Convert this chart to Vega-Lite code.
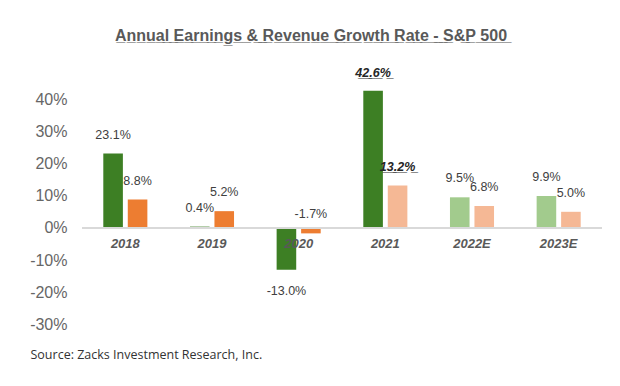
{
  "$schema": "https://vega.github.io/schema/vega-lite/v6.json",
  "width": 520,
  "height": 241.5,
  "autosize": {"type": "none"},
  "padding": {"left": 82, "top": 83, "right": 18, "bottom": 61.5},
  "background": "white",
  "title": {
    "text": "A\u0332n\u0332n\u0332u\u0332a\u0332l\u0332 \u0332E\u0332a\u0332r\u0332n\u0332i\u0332n\u0332g\u0332s\u0332 \u0332&\u0332 \u0332R\u0332e\u0332v\u0332e\u0332n\u0332u\u0332e\u0332 \u0332G\u0332r\u0332o\u0332w\u0332t\u0332h\u0332 \u0332R\u0332a\u0332t\u0332e\u0332 \u0332-\u0332 \u0332S\u0332&\u0332P\u0332 \u03325\u03320\u03320\u0332",
    "font": "Liberation Sans",
    "fontSize": 16,
    "fontWeight": "bold",
    "color": "#595959",
    "anchor": "middle",
    "frame": "group",
    "dx": -31,
    "offset": 23
  },
  "config": {
    "view": {"stroke": null}
  },
  "data": {
    "values": [
      {"year": "2018", "series": "Earnings", "type": "Actual", "value": 0.231},
      {"year": "2018", "series": "Revenue", "type": "Actual", "value": 0.088},
      {"year": "2019", "series": "Earnings", "type": "Actual", "value": 0.004},
      {"year": "2019", "series": "Revenue", "type": "Actual", "value": 0.052},
      {"year": "2020", "series": "Earnings", "type": "Actual", "value": -0.130},
      {"year": "2020", "series": "Revenue", "type": "Actual", "value": -0.017},
      {"year": "2021", "series": "Earnings", "type": "Actual", "value": 0.426},
      {"year": "2021", "series": "Revenue", "type": "Estimate", "value": 0.132},
      {"year": "2022E", "series": "Earnings", "type": "Estimate", "value": 0.095},
      {"year": "2022E", "series": "Revenue", "type": "Estimate", "value": 0.068},
      {"year": "2023E", "series": "Earnings", "type": "Estimate", "value": 0.099},
      {"year": "2023E", "series": "Revenue", "type": "Estimate", "value": 0.050}
    ]
  },
  "encoding": {
    "y": {
      "field": "value", "type": "quantitative",
      "scale": {"domain": [-0.3, 0.45], "nice": false, "zero": false},
      "axis": {
        "values": [-0.3, -0.2, -0.1, 0, 0.1, 0.2, 0.3, 0.4],
        "labelExpr": "replace(format(datum.value, '.0%'), '\u2212', '-')",
        "labelOverlap": false,
        "labelBound": false,
        "grid": false, "domain": false, "ticks": false, "title": null,
        "labelFont": "Liberation Sans", "labelFontSize": 16, "labelColor": "#666666",
        "labelPadding": 15
      }
    }
  },
  "layer": [
    {
      "mark": {"type": "bar"},
      "encoding": {
        "x": {
          "field": "year", "type": "nominal", "sort": null,
          "scale": {"paddingInner": 0, "paddingOuter": 0},
          "axis": {
            "labels": false, "ticks": false, "domain": false,
            "title": "Source: Zacks Investment Research, Inc.",
            "titleFont": "Open Sans", "titleFontSize": 12.5, "titleFontWeight": "normal",
            "titleColor": "#333333", "titleAnchor": "start", "titleAlign": "left",
            "titleX": -52, "titleY": 30, "titleBaseline": "middle"
          }
        },
        "xOffset": {"field": "series", "type": "nominal", "scale": {"paddingInner": 0.2, "paddingOuter": 0.87}},
        "color": {
          "condition": [
            {"test": "datum.type === 'Estimate' && datum.series === 'Earnings'", "value": "#a2cb8d"},
            {"test": "datum.type === 'Estimate' && datum.series === 'Revenue'", "value": "#f5b895"}
          ],
          "field": "series", "type": "nominal",
          "scale": {"domain": ["Earnings", "Revenue"], "range": ["#3d7f24", "#ed7d31"]},
          "legend": null
        }
      }
    },
    {
      "mark": {"type": "rule", "color": "#d9d9d9", "strokeWidth": 2},
      "encoding": {"y": {"datum": 0, "type": "quantitative"}}
    },
    {
      "transform": [{"filter": "datum.value > -0.05 && datum.year !== '2021'"}],
      "mark": {
        "type": "text", "font": "Liberation Sans", "fontSize": 12.5, "color": "#404040",
        "baseline": "middle", "dy": -19,
        "text": {"expr": "replace(format(datum.value, '.1%'), '\u2212', '-')"}
      },
      "encoding": {
        "x": {"field": "year", "type": "nominal", "sort": null},
        "xOffset": {"field": "series", "type": "nominal"}
      }
    },
    {
      "transform": [{"filter": "datum.value < -0.05"}],
      "mark": {
        "type": "text", "font": "Liberation Sans", "fontSize": 12.5, "color": "#404040",
        "baseline": "middle", "dy": 21,
        "text": {"expr": "replace(format(datum.value, '.1%'), '\u2212', '-')"}
      },
      "encoding": {
        "x": {"field": "year", "type": "nominal", "sort": null},
        "xOffset": {"field": "series", "type": "nominal"}
      }
    },
    {
      "transform": [{"filter": "datum.year === '2021'"}],
      "mark": {
        "type": "text", "font": "Liberation Sans", "fontSize": 12.5, "color": "#262626",
        "fontWeight": "bold", "fontStyle": "italic",
        "baseline": "middle", "dy": -18,
        "text": {"expr": "replace(format(datum.value, '.1%'), /./g, '$&\u0332')"}
      },
      "encoding": {
        "x": {"field": "year", "type": "nominal", "sort": null},
        "xOffset": {"field": "series", "type": "nominal"}
      }
    },
    {
      "transform": [{"filter": "datum.series === 'Earnings'"}],
      "mark": {
        "type": "text", "font": "Liberation Sans", "fontSize": 13, "color": "#595959",
        "fontWeight": "bold", "fontStyle": "italic", "baseline": "middle", "dy": 16
      },
      "encoding": {
        "x": {"field": "year", "type": "nominal", "sort": null},
        "y": {"datum": 0, "type": "quantitative"},
        "text": {"field": "year"}
      }
    }
  ]
}
